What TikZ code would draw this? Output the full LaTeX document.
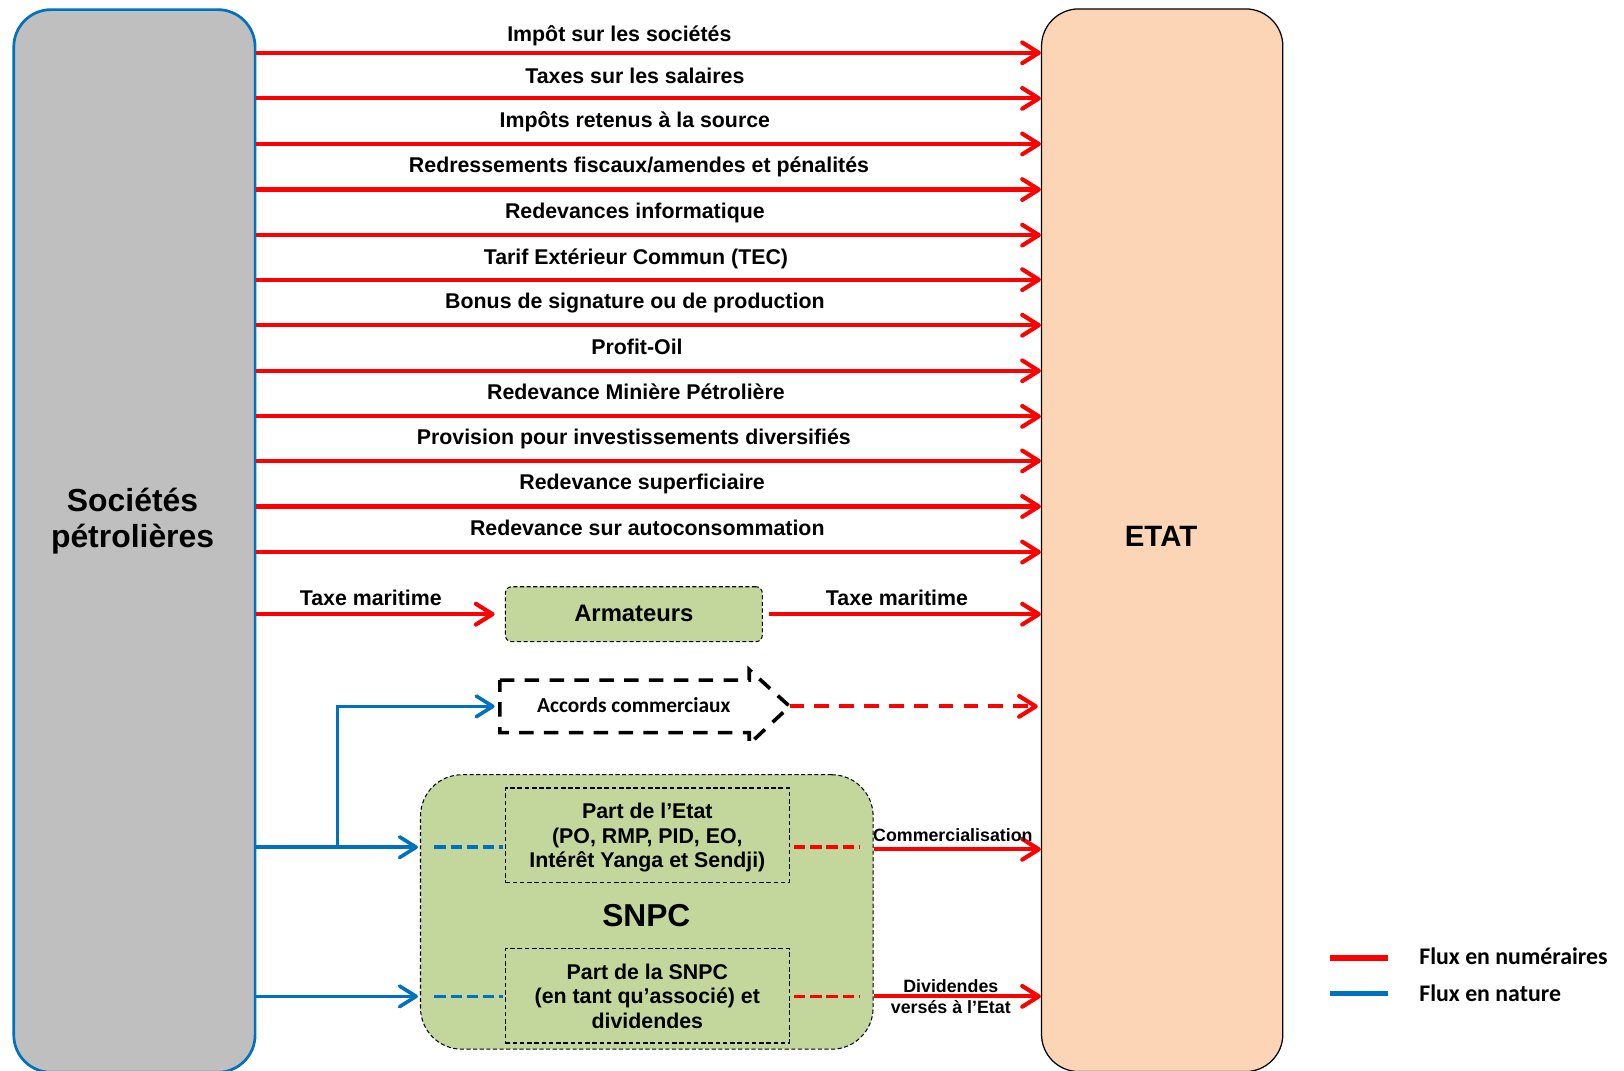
\documentclass[tikz,border=0pt]{standalone}
\usepackage{fontspec}
\setmainfont{Liberation Sans}
\newfontfamily\calfont{Carlito}
\usetikzlibrary{arrows.meta}
\definecolor{fluxred}{RGB}{255,0,0}
\definecolor{fluxblue}{RGB}{0,112,192}
\definecolor{socgray}{RGB}{191,191,191}
\definecolor{etatfill}{RGB}{251,213,181}
\definecolor{snpcgreen}{RGB}{195,214,155}
\begin{document}
\begin{tikzpicture}[x=0.5pt,y=-0.5pt,
  lbl/.style={font=\bfseries\fontsize{10.3}{11.8}\selectfont, inner sep=0pt, anchor=base},
  smalllbl/.style={font=\bfseries\fontsize{8.6}{10}\selectfont, inner sep=0pt, align=center},
  redflow/.style={draw=fluxred, line width=2pt, -{Straight Barb[length=8pt,width=10pt,round]}},
  blueflow/.style={draw=fluxblue, line width=1.75pt, -{Straight Barb[length=8pt,width=10pt,round]}},
  reddash/.style={draw=fluxred, line width=1.75pt, dash pattern=on 5.5pt off 2.3pt},
  bluedash/.style={draw=fluxblue, line width=1.75pt, dash pattern=on 5.5pt off 2.3pt},
  bigbox/.style={rounded corners=18pt, minimum width=116.5pt, minimum height=513pt, anchor=north west, inner sep=0pt},
  greenbox/.style={fill=snpcgreen, draw=black, line width=0.5pt, dash pattern=on 2pt off 1.2pt},
  innerbox/.style={draw=black, line width=0.7pt, dash pattern=on 2.2pt off 1.3pt, minimum width=137pt, minimum height=45.5pt, align=center, font=\bfseries\fontsize{10.3}{11.8}\selectfont, inner sep=0pt, text depth=0pt},
  accline/.style={draw=black, line width=1.75pt, dash pattern=on 7pt off 5pt}
]
\useasboundingbox (0,0) rectangle (1568,1034);

% main boxes
\node[bigbox, fill=socgray, draw=fluxblue, line width=1.3pt] (soc) at (12,8) {};
\node[bigbox, fill=etatfill, draw=black, line width=0.6pt] (etat) at (1005,8) {};
\node[font=\bfseries\fontsize{15.4}{17.5}\selectfont, align=center] (soctext) at (128,503) {Sociétés\\pétrolières};
\node[font=\bfseries\fontsize{14.2}{16}\selectfont] (etattext) at (1121,518) {ETAT};

% row coordinates
\coordinate (r1) at (0,51);
\coordinate (r2) at (0,95);
\coordinate (r3) at (0,139);
\coordinate (r4) at (0,183);
\coordinate (r5) at (0,227);
\coordinate (r6) at (0,270);
\coordinate (r7) at (0,314);
\coordinate (r8) at (0,358);
\coordinate (r9) at (0,402);
\coordinate (r10) at (0,445);
\coordinate (r11) at (0,489);
\coordinate (r12) at (0,533);

\foreach \i in {1,...,12}{
  \draw[redflow] (soc.east |- r\i) -- (etat.west |- r\i);
}

\node[lbl] (t1) at (598,40) {Impôt sur les sociétés};
\node[lbl] (t2) at (613,81) {Taxes sur les salaires};
\node[lbl] (t3) at (613,123) {Impôts retenus à la source};
\node[lbl] (t4) at (617,167) {Redressements fiscaux/amendes et pénalités};
\node[lbl] (t5) at (613,211) {Redevances informatique};
\node[lbl] (t6) at (614,255) {Tarif Extérieur Commun (TEC)};
\node[lbl] (t7) at (613,298) {Bonus de signature ou de production};
\node[lbl] (t8) at (615,342) {Profit-Oil};
\node[lbl] (t9) at (614,386) {Redevance Minière Pétrolière};
\node[lbl] (t10) at (612,429) {Provision pour investissements diversifiés};
\node[lbl] (t11) at (620,473) {Redevance superficiaire};
\node[lbl] (t12) at (625,517) {Redevance sur autoconsommation};

% Armateurs
\node[greenbox, rounded corners=3pt, minimum width=124pt, minimum height=26.5pt, font=\bfseries\fontsize{11.5}{13}\selectfont, inner sep=0pt] (arm) at (612,593) {\raisebox{1pt}{Armateurs}};
\draw[redflow, shorten >=5pt] (soc.east |- arm.west) -- (arm.west);
\draw[redflow, shorten <=3pt] (arm.east) -- (etat.west |- arm.east);
\node[lbl] (tm1) at (358,585) {Taxe maritime};
\node[lbl] (tm2) at (866,585) {Taxe maritime};

% Accords commerciaux
\node[minimum width=120pt, minimum height=25pt, inner sep=0pt, font=\calfont\bfseries\fontsize{10.3}{12}\selectfont] (acc) at (603,682) {\hspace*{9pt}\raisebox{1.5pt}{Accords commerciaux}};
\coordinate (acctip) at ([xshift=19.5pt]acc.east);
\draw[accline] (acc.north west) -- (acc.north east) -- ([yshift=5pt]acc.north east) -- (acctip) -- ([yshift=-5.5pt]acc.south east) -- (acc.south east) -- (acc.south west) -- cycle;
\draw[redflow, dash pattern=on 7pt off 5pt, shorten >=1.5pt] (acctip) -- (etat.west |- acctip);

% SNPC
\node[greenbox, rounded corners=20pt, minimum width=218.5pt, minimum height=132.5pt, inner sep=0pt] (snpc) at (624.5,880.5) {};
\node[font=\bfseries\fontsize{15.3}{17}\selectfont, inner sep=0pt] (snpctext) at (624,884) {SNPC};
\node[innerbox] (p1) at (625,806.5) {Part de l’Etat\\(PO, RMP, PID, EO,\\Intérêt Yanga et Sendji)};
\node[innerbox] (p2) at (625,961.5) {Part de la SNPC\\(en tant qu’associé) et\\dividendes};

\coordinate (rs1) at (0,818);
\coordinate (rs2) at (0,962);
\coordinate (rc) at (0,820);
\coordinate (branch) at (326,818);

\draw[blueflow, shorten >=1pt] (soc.east |- rs1) -- (snpc.west |- rs1);
\draw[blueflow, shorten >=2.5pt] (branch) -- (branch |- acc.west) -- (acc.west);
\draw[blueflow, shorten >=1pt] (soc.east |- rs2) -- (snpc.west |- rs2);

\draw[bluedash, shorten <=7pt, shorten >=1pt] (snpc.west |- rs1) -- (p1.west |- rs1);
\draw[bluedash, shorten <=7pt, shorten >=1pt] (snpc.west |- rs2) -- (p2.west |- rs2);
\draw[reddash, shorten <=2pt, shorten >=6.5pt] (p1.east |- rs1) -- (snpc.east |- rs1);
\draw[reddash, shorten <=2pt, shorten >=6.5pt] (p2.east |- rs2) -- (snpc.east |- rs2);

\draw[redflow] (snpc.east |- rc) -- (etat.west |- rc);
\draw[redflow] (snpc.east |- rs2) -- (etat.west |- rs2);
\node[smalllbl] (com) at (920,806) {Commercialisation};
\node[smalllbl] (div) at (918,962) {Dividendes\\versés à l’Etat};

% legend
\node[anchor=west, inner sep=0pt, font=\calfont\bfseries\fontsize{11.5}{13}\selectfont] (lg1) at (1370,923) {Flux en numéraires};
\node[anchor=west, inner sep=0pt, font=\calfont\bfseries\fontsize{11.5}{13}\selectfont] (lg2) at (1370,959) {Flux en nature};
\draw[fluxred, line width=2.5pt] ([xshift=-43pt,yshift=-1pt]lg1.west) -- ([xshift=-15pt,yshift=-1pt]lg1.west);
\draw[fluxblue, line width=2.5pt] ([xshift=-43pt]lg2.west) -- ([xshift=-15pt]lg2.west);
\end{tikzpicture}
\end{document}
